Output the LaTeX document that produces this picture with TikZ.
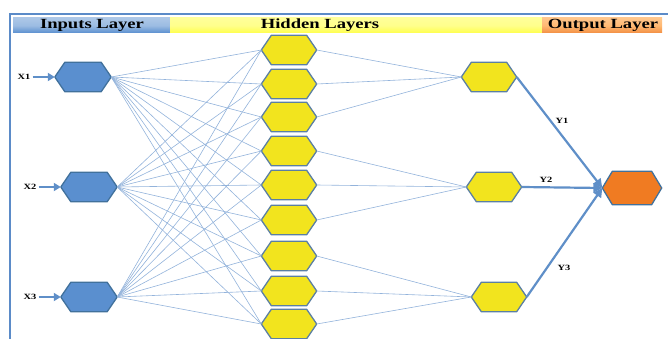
\documentclass[tikz,border=0pt]{standalone}
\usepackage{fontspec}
\setmainfont{Liberation Serif}
\usetikzlibrary{arrows.meta}
\definecolor{frameblue}{HTML}{5B8BC8}
\definecolor{inblue}{HTML}{5A8FCF}
\definecolor{inedge}{HTML}{41719C}
\definecolor{hidyellow}{HTML}{F2E41E}
\definecolor{hidedge}{HTML}{5B7FA3}
\definecolor{outorange}{HTML}{F07B22}
\definecolor{wire}{HTML}{93B3DB}
\definecolor{thickblue}{HTML}{5F8FC8}
\newcommand{\widetxt}[2]{\scalebox{#1}[1]{#2}}
\tikzset{
  hexa/.style n args={4}{rectangle, inner sep=0pt, minimum width=#1, minimum height=#2,
    append after command={\pgfextra{\filldraw[line width=1.3pt, draw=#4, fill=#3, line join=round]
      (\tikzlastnode.west) -- ([xshift=10pt]\tikzlastnode.north west) -- ([xshift=-10pt]\tikzlastnode.north east)
      -- (\tikzlastnode.east) -- ([xshift=-10pt]\tikzlastnode.south east) -- ([xshift=10pt]\tikzlastnode.south west) -- cycle;}}},
  inhex/.style={hexa={56pt}{29pt}{inblue}{inedge}},
  hidhex/.style={hexa={55pt}{29pt}{hidyellow}{hidedge}},
  outhex/.style={hexa={59pt}{33pt}{outorange}{inedge}},
  wireline/.style={draw=wire, line width=0.6pt},
  thickarrow/.style={draw=thickblue, line width=2.2pt, -{Triangle[length=9pt,width=9pt]}},
  inarrow/.style={draw=thickblue, line width=2.4pt, -{Triangle[length=7pt,width=8pt]}},
  smalllab/.style={font=\bfseries\fontsize{8}{9}\selectfont, inner sep=0pt},
  headlab/.style={font=\bfseries\fontsize{14}{15}\selectfont, inner sep=0pt},
}
\begin{document}
\begin{tikzpicture}[x=1pt,y=-1pt]
\useasboundingbox (0,0) rectangle (668,339);
% frame
\draw[frameblue, line width=1.5pt] (10,339) -- (10,14) -- (668,14);
% header bar
\shade[top color=inblue!50!white, bottom color=inblue, middle color=inblue!60!white] (13,18) rectangle (170,33);
\shade[top color=yellow!40!white, bottom color=yellow!70!white, middle color=yellow!45!white] (170,18) rectangle (542,33);
\shade[top color=orange!45!white, bottom color=outorange!85!white, middle color=orange!55!white] (542,18) rectangle (662,33);
\node[headlab] (t1) at (92,25.5) {\widetxt{1.33}{Inputs Layer}};
\node[headlab] (t2) at (320,25.5) {\widetxt{1.33}{Hidden Layers}};
\node[headlab] (t3) at (603,25.5) {\widetxt{1.33}{Output Layer}};
% hidden layer 1
\foreach \k/\yy in {1/50,2/84,3/117,4/151,5/185,6/220,7/256,8/291,9/324}{
  \node[hidhex] (h\k) at (289,\yy) {};
}
% inputs
\node[inhex] (i1) at (83,77) {};
\node[inhex] (i2) at (89,187) {};
\node[inhex] (i3) at (89,297) {};
% hidden layer 2
\node[hidhex] (g1) at (489,77) {};
\node[hidhex] (g2) at (494,187) {};
\node[hidhex] (g3) at (499,297) {};
% output
\node[outhex] (o) at (632,188) {};
% wires input -> hidden
\foreach \i in {1,2,3}{
  \foreach \k in {1,...,9}{
    \draw[wireline] (i\i.east) -- (h\k.west);
  }
}
\foreach \k in {1,2,3}{\draw[wireline] (h\k.east) -- (g1.west);}
\foreach \k in {4,5,6}{\draw[wireline] (h\k.east) -- (g2.west);}
\foreach \k in {7,8,9}{\draw[wireline] (h\k.east) -- (g3.west);}
% outputs
\draw[thickarrow] (g1.east) -- (o.west);
\draw[thickarrow] (g2.east) -- (o.west);
\draw[thickarrow] (g3.east) -- (o.west);
\node[smalllab] (y1) at (562,121) {\widetxt{1.3}{Y1}};
\node[smalllab] (y2) at (546,180) {\widetxt{1.3}{Y2}};
\node[smalllab] (y3) at (564,268) {\widetxt{1.3}{Y3}};
% input labels
\node[smalllab] (x1) at (24,77) {\widetxt{1.3}{X1}};
\node[smalllab] (x2) at (30,187) {\widetxt{1.3}{X2}};
\node[smalllab] (x3) at (30,297) {\widetxt{1.3}{X3}};
\coordinate (x1e) at ([xshift=2pt]x1.east);
\coordinate (x2e) at ([xshift=2pt]x2.east);
\coordinate (x3e) at ([xshift=2pt]x3.east);
\draw[inarrow] (x1e) -- (i1.west);
\draw[inarrow] (x2e) -- (i2.west);
\draw[inarrow] (x3e) -- (i3.west);
\end{tikzpicture}
\end{document}
